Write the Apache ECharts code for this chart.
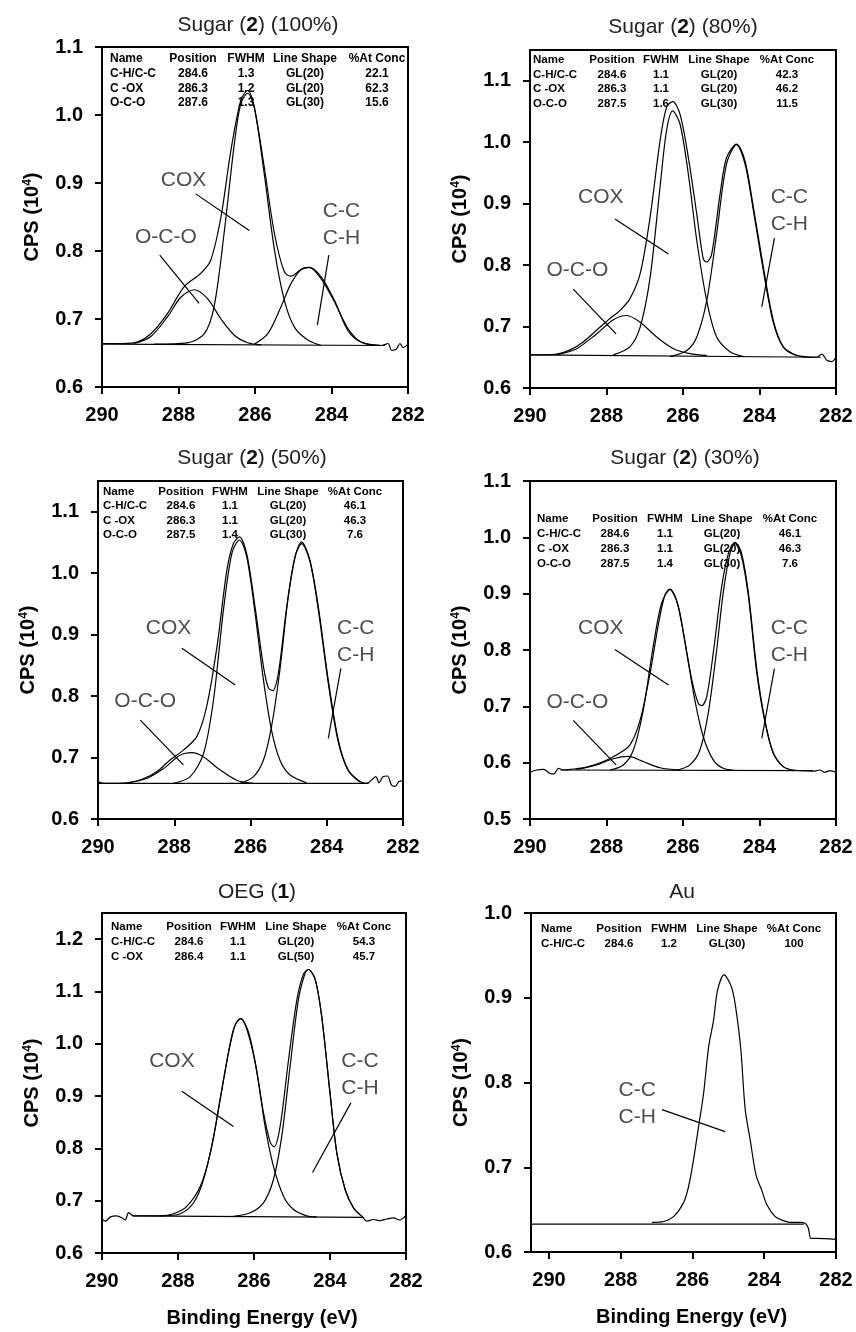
<!DOCTYPE html>
<html><head><meta charset="utf-8">
<script src="https://cdn.jsdelivr.net/npm/echarts@6/dist/echarts.min.js"></script>
<style>html,body{margin:0;padding:0;background:#fff}#c{width:856px;height:1332px}</style>
</head><body><div id="c"></div><script>
const FONT = '"Liberation Sans", Arial, Helvetica, sans-serif';
const xTicks = [290, 288, 286, 284, 282];
const tableHeader = ['Name', 'Position', 'FWHM', 'Line Shape', '%At Conc'];

// ---------- Panel 1 : Sugar (2) (100%) ----------
const p1Title = ['Sugar (', '2', ') (100%)'];
const p1YTicks = [0.6, 0.7, 0.8, 0.9, 1.0, 1.1];
const p1Envelope = [[290.0,0.664],[289.61,0.664],[289.17,0.665],[288.73,0.678],[288.29,0.708],[287.86,0.747],[287.42,0.767],[287.16,0.786],[286.89,0.85],[286.63,0.948],[286.37,1.022],[286.19,1.036],[286.02,1.012],[285.76,0.924],[285.49,0.825],[285.23,0.769],[285.06,0.763],[284.79,0.773],[284.58,0.776],[284.27,0.762],[283.92,0.727],[283.57,0.683],[283.22,0.666],[282.69,0.661],[282.52,0.664],[282.43,0.654],[282.3,0.656],[282.21,0.664],[282.13,0.658],[282.0,0.663]];
const p1Cox = [[288.64,0.663],[287.77,0.665],[287.33,0.678],[287.07,0.718],[286.81,0.825],[286.54,0.958],[286.37,1.017],[286.19,1.032],[286.02,1.012],[285.76,0.914],[285.49,0.801],[285.23,0.727],[284.97,0.688],[284.62,0.669],[284.27,0.661]];
const p1Oco = [[289.17,0.664],[288.73,0.674],[288.29,0.703],[287.94,0.732],[287.59,0.743],[287.24,0.73],[286.89,0.70],[286.54,0.676],[286.19,0.665],[285.84,0.662]];
const p1Cc = [[286.02,0.663],[285.67,0.678],[285.32,0.718],[285.06,0.752],[284.79,0.773],[284.58,0.776],[284.27,0.759],[283.92,0.725],[283.57,0.686],[283.22,0.666],[282.69,0.661]];
const p1Base = [[290.0,0.663],[282.6,0.661]];
const p1Labels = [['COX',287.87,0.904],['O-C-O',288.33,0.82],['C-C\nC-H',283.74,0.838]];
const p1Leaders = [[[287.55,0.884],[286.15,0.830]],[[288.49,0.794],[287.46,0.723]],[[284.07,0.794],[284.37,0.691]]];
const p1Table = [['C-H/C-C','284.6','1.3','GL(20)','22.1'],['C -OX','286.3','1.2','GL(20)','62.3'],['O-C-O','287.6','1.3','GL(30)','15.6']];

// ---------- Panel 2 : Sugar (2) (80%) ----------
const p2Title = ['Sugar (', '2', ') (80%)'];
const p2YTicks = [0.6, 0.7, 0.8, 0.9, 1.0, 1.1];
const p2Envelope = [[290.0,0.654],[289.65,0.654],[289.3,0.655],[288.95,0.662],[288.61,0.675],[288.26,0.694],[287.91,0.713],[287.65,0.726],[287.39,0.745],[287.12,0.786],[286.86,0.878],[286.6,1.002],[286.43,1.057],[286.27,1.066],[286.08,1.046],[285.86,0.975],[285.64,0.883],[285.47,0.81],[285.38,0.805],[285.25,0.818],[285.03,0.916],[284.86,0.975],[284.6,0.997],[284.38,0.97],[284.16,0.894],[283.9,0.797],[283.64,0.71],[283.38,0.667],[283.03,0.653],[282.51,0.65],[282.37,0.655],[282.24,0.645],[282.11,0.643],[282.0,0.65]];
const p2Cox = [[287.82,0.654],[287.39,0.667],[287.12,0.699],[286.86,0.78],[286.6,0.927],[286.43,1.019],[286.27,1.051],[286.08,1.03],[285.86,0.948],[285.64,0.84],[285.38,0.742],[285.12,0.683],[284.77,0.659],[284.42,0.651]];
const p2Oco = [[289.3,0.654],[288.78,0.664],[288.26,0.688],[287.82,0.711],[287.47,0.718],[287.12,0.707],[286.69,0.683],[286.25,0.664],[285.82,0.656],[285.38,0.653]];
const p2Cc = [[286.34,0.651],[285.9,0.661],[285.64,0.683],[285.38,0.742],[285.12,0.851],[284.86,0.965],[284.6,0.996],[284.38,0.965],[284.16,0.889],[283.9,0.791],[283.64,0.707],[283.38,0.667],[283.03,0.653]];
const p2Base = [[290.0,0.654],[282.4,0.650]];
const p2Labels = [['COX',288.15,0.91],['O-C-O',288.76,0.791],['C-C\nC-H',283.22,0.889]];
const p2Leaders = [[[287.78,0.875],[286.38,0.818]],[[288.87,0.761],[287.75,0.688]],[[283.61,0.844],[283.94,0.732]]];
const p2Table = [['C-H/C-C','284.6','1.1','GL(20)','42.3'],['C -OX','286.3','1.1','GL(20)','46.2'],['O-C-O','287.5','1.6','GL(30)','11.5']];

// ---------- Panel 3 : Sugar (2) (50%) ----------
const p3Title = ['Sugar (', '2', ') (50%)'];
const p3YTicks = [0.6, 0.7, 0.8, 0.9, 1.0, 1.1];
const p3Envelope = [[290.0,0.661],[289.85,0.658],[289.24,0.659],[288.8,0.666],[288.46,0.677],[288.11,0.696],[287.76,0.712],[287.41,0.734],[287.15,0.783],[286.88,0.88],[286.62,1.005],[286.45,1.048],[286.29,1.059],[286.1,1.032],[285.88,0.945],[285.66,0.848],[285.53,0.813],[285.42,0.809],[285.27,0.837],[285.05,0.945],[284.83,1.027],[284.66,1.051],[284.44,1.021],[284.22,0.945],[283.96,0.826],[283.7,0.729],[283.44,0.68],[283.13,0.661],[282.96,0.658],[282.78,0.666],[282.71,0.669],[282.63,0.659],[282.52,0.669],[282.41,0.67],[282.3,0.655],[282.2,0.653],[282.11,0.661],[282.0,0.662]];
const p3Cox = [[288.02,0.658],[287.58,0.669],[287.23,0.707],[286.97,0.794],[286.71,0.94],[286.49,1.032],[286.29,1.054],[286.1,1.027],[285.88,0.935],[285.66,0.826],[285.45,0.745],[285.23,0.696],[284.97,0.672],[284.53,0.659]];
const p3Oco = [[289.24,0.659],[288.72,0.666],[288.28,0.682],[287.84,0.704],[287.54,0.708],[287.23,0.701],[286.8,0.68],[286.36,0.663],[285.92,0.658]];
const p3Cc = [[286.27,0.658],[285.92,0.669],[285.66,0.696],[285.45,0.75],[285.23,0.842],[285.01,0.962],[284.83,1.027],[284.66,1.048],[284.44,1.019],[284.22,0.94],[283.96,0.821],[283.7,0.726],[283.44,0.679],[283.13,0.66]];
const p3Base = [[290.0,0.658],[282.9,0.658]];
const p3Labels = [['COX',288.15,0.91],['O-C-O',288.76,0.791],['C-C\nC-H',283.24,0.889]];
const p3Leaders = [[[287.8,0.878],[286.4,0.818]],[[288.89,0.761],[287.76,0.688]],[[283.63,0.845],[283.96,0.731]]];
const p3Table = [['C-H/C-C','284.6','1.1','GL(20)','46.1'],['C -OX','286.3','1.1','GL(20)','46.3'],['O-C-O','287.5','1.4','GL(30)','7.6']];

// ---------- Panel 4 : Sugar (2) (30%) ----------
const p4Title = ['Sugar (', '2', ') (30%)'];
const p4YTicks = [0.5, 0.6, 0.7, 0.8, 0.9, 1.0, 1.1];
const p4Envelope = [[290.0,0.583],[289.83,0.587],[289.65,0.588],[289.48,0.581],[289.37,0.58],[289.26,0.59],[289.13,0.587],[288.95,0.588],[288.52,0.592],[288.08,0.602],[287.73,0.614],[287.39,0.631],[287.12,0.676],[286.86,0.759],[286.64,0.847],[286.47,0.898],[286.34,0.908],[286.17,0.889],[285.99,0.83],[285.77,0.747],[285.6,0.705],[285.51,0.701],[285.38,0.717],[285.21,0.794],[284.99,0.912],[284.81,0.972],[284.64,0.991],[284.47,0.972],[284.29,0.901],[284.07,0.765],[283.86,0.676],[283.64,0.617],[283.38,0.593],[283.12,0.587],[282.59,0.585],[282.42,0.587],[282.29,0.583],[282.16,0.586],[282.0,0.583]];
const p4Cox = [[287.91,0.587],[287.56,0.596],[287.3,0.622],[287.04,0.693],[286.78,0.806],[286.56,0.883],[286.34,0.907],[286.12,0.877],[285.9,0.794],[285.69,0.711],[285.47,0.646],[285.21,0.605],[284.95,0.59],[284.6,0.586]];
const p4Oco = [[288.78,0.588],[288.26,0.596],[287.82,0.607],[287.43,0.611],[287.04,0.602],[286.6,0.591],[286.08,0.587]];
const p4Cc = [[286.17,0.586],[285.82,0.596],[285.56,0.622],[285.34,0.688],[285.12,0.8],[284.95,0.901],[284.77,0.972],[284.64,0.989],[284.47,0.966],[284.29,0.895],[284.07,0.759],[283.86,0.673],[283.64,0.617],[283.38,0.593],[283.12,0.586]];
const p4Base = [[289.2,0.587],[282.6,0.586]];
const p4Labels = [['COX',288.15,0.838],['O-C-O',288.76,0.708],['C-C\nC-H',283.22,0.815]];
const p4Leaders = [[[287.78,0.801],[286.38,0.738]],[[288.87,0.675],[287.75,0.596]],[[283.61,0.767],[283.94,0.643]]];
const p4Table = [['C-H/C-C','284.6','1.1','GL(20)','46.1'],['C -OX','286.3','1.1','GL(20)','46.3'],['O-C-O','287.5','1.4','GL(30)','7.6']];

// ---------- Panel 5 : OEG (1) ----------
const p5Title = ['OEG (', '1', ')'];
const p5YTicks = [0.6, 0.7, 0.8, 0.9, 1.0, 1.1, 1.2];
const p5Envelope = [[290.0,0.664],[289.91,0.661],[289.78,0.669],[289.61,0.671],[289.47,0.667],[289.39,0.663],[289.3,0.677],[289.17,0.671],[288.47,0.671],[288.12,0.675],[287.77,0.689],[287.41,0.728],[287.15,0.791],[286.89,0.894],[286.67,0.983],[286.49,1.037],[286.35,1.048],[286.19,1.028],[285.97,0.964],[285.75,0.868],[285.57,0.811],[285.47,0.803],[285.31,0.843],[285.09,0.97],[284.87,1.085],[284.7,1.133],[284.57,1.142],[284.39,1.123],[284.22,1.053],[284.0,0.906],[283.82,0.791],[283.6,0.721],[283.38,0.686],[283.16,0.67],[283.03,0.661],[282.86,0.664],[282.68,0.662],[282.51,0.665],[282.33,0.667],[282.16,0.663],[282.07,0.667],[282.0,0.673]];
const p5Cox = [[288.47,0.671],[287.94,0.675],[287.59,0.696],[287.33,0.74],[287.06,0.823],[286.8,0.932],[286.54,1.028],[286.35,1.048],[286.14,1.021],[285.92,0.945],[285.71,0.843],[285.49,0.766],[285.22,0.708],[284.96,0.683],[284.61,0.671],[284.35,0.669]];
const p5Cc = [[286.54,0.67],[286.1,0.677],[285.75,0.696],[285.49,0.74],[285.27,0.823],[285.05,0.957],[284.83,1.085],[284.65,1.136],[284.57,1.142],[284.39,1.123],[284.22,1.053],[284.0,0.906],[283.82,0.791],[283.6,0.721],[283.38,0.686],[283.16,0.67]];
const p5Base = [[289.2,0.671],[283.1,0.668]];
const p5Labels = [['COX',288.16,0.967],['C-C\nC-H',283.21,0.94]];
const p5Leaders = [[[287.9,0.909],[286.54,0.842]],[[283.45,0.887],[284.46,0.754]]];
const p5Table = [['C-H/C-C','284.6','1.1','GL(20)','54.3'],['C -OX','286.4','1.1','GL(50)','45.7']];

// ---------- Panel 6 : Au ----------
const p6Title = ['Au', '', ''];
const p6YTicks = [0.6, 0.7, 0.8, 0.9, 1.0];
const p6Envelope = [[287.13,0.635],[286.8,0.636],[286.52,0.642],[286.25,0.658],[286.11,0.677],[285.97,0.709],[285.83,0.748],[285.69,0.787],[285.55,0.842],[285.41,0.874],[285.3,0.909],[285.12,0.927],[284.9,0.911],[284.76,0.878],[284.65,0.838],[284.53,0.768],[284.39,0.732],[284.23,0.691],[284.07,0.673],[283.93,0.656],[283.7,0.642],[283.47,0.637],[283.28,0.635],[283.0,0.635],[282.86,0.634],[282.77,0.628],[282.7,0.616],[282.54,0.616],[282.0,0.615]];
const p6Base = [[290.5,0.633],[282.9,0.633]];
const p6Labels = [['C-C\nC-H',287.54,0.775]];
const p6Leaders = [[[286.85,0.768],[285.09,0.742]]];
const p6Table = [['C-H/C-C','284.6','1.2','GL(30)','100']];

// ---------- layout ----------
const panels = [
  {title:p1Title, yTicks:p1YTicks, yMin:0.6, yMax:1.1, xMax:290, curves:[p1Envelope,p1Cox,p1Oco,p1Cc], base:p1Base, labels:p1Labels, leaders:p1Leaders, table:p1Table,
   grid:{left:102,top:47,width:306,height:340}, tpos:[258,25], tbl:{name:8, cols:[91,144,203,275], row0:12, dy:14.6, fs:12}},
  {title:p2Title, yTicks:p2YTicks, yMin:0.6, yMax:1.15, xMax:290, curves:[p2Envelope,p2Cox,p2Oco,p2Cc], base:p2Base, labels:p2Labels, leaders:p2Leaders, table:p2Table,
   grid:{left:530,top:50,width:306,height:338}, tpos:[683,27], tbl:{name:3, cols:[82,131,189,257], row0:10, dy:14.6, fs:11.5}},
  {title:p3Title, yTicks:p3YTicks, yMin:0.6, yMax:1.15, xMax:290, curves:[p3Envelope,p3Cox,p3Oco,p3Cc], base:p3Base, labels:p3Labels, leaders:p3Leaders, table:p3Table,
   grid:{left:98,top:481,width:305,height:338}, tpos:[252,458], tbl:{name:5, cols:[83,132,190,257], row0:10.7, dy:14.5, fs:11.5}},
  {title:p4Title, yTicks:p4YTicks, yMin:0.5, yMax:1.1, xMax:290, curves:[p4Envelope,p4Cox,p4Oco,p4Cc], base:p4Base, labels:p4Labels, leaders:p4Leaders, table:p4Table,
   grid:{left:530,top:481,width:306,height:338}, tpos:[685,458], tbl:{name:7, cols:[85,135,192,260], row0:38.3, dy:14.7, fs:11.5}},
  {title:p5Title, yTicks:p5YTicks, yMin:0.6, yMax:1.25, xMax:290, curves:[p5Envelope,p5Cox,p5Cc], base:p5Base, labels:p5Labels, leaders:p5Leaders, table:p5Table,
   grid:{left:102,top:913,width:304,height:340}, tpos:[257,892], tbl:{name:9, cols:[87,136,194,262], row0:14, dy:14.8, fs:11.5}},
  {title:p6Title, yTicks:p6YTicks, yMin:0.6, yMax:1.0, xMax:290.5, curves:[p6Envelope], base:p6Base, labels:p6Labels, leaders:p6Leaders, table:p6Table,
   grid:{left:531,top:913,width:305,height:339}, tpos:[682,892], tbl:{name:10, cols:[88,138,196,263], row0:16, dy:14.7, fs:11.5}}
];

const grids = [], xAxes = [], yAxes = [], series = [], graphics = [];
panels.forEach((p, i) => {
  grids.push(Object.assign({show:true, borderColor:'#000', borderWidth:2, containLabel:false}, p.grid));
  xAxes.push({
    type:'value', gridIndex:i, inverse:true, min:282, max:p.xMax,
    axisLine:{show:true, onZero:false, lineStyle:{color:'#000', width:2}},
    axisTick:{show:true, inside:false, length:7, lineStyle:{color:'#000', width:2}, customValues:xTicks},
    axisLabel:{customValues:xTicks, fontSize:20, fontWeight:'bold', color:'#000', fontFamily:FONT, margin:18,
               formatter:v => String(Math.round(v))},
    splitLine:{show:false},
    name: i >= 4 ? 'Binding Energy (eV)' : '', nameLocation:'middle', nameGap:55,
    nameTextStyle:{fontSize:20, fontWeight:'bold', color:'#000', fontFamily:FONT, padding:[0,0,0,16]}
  });
  yAxes.push({
    type:'value', gridIndex:i, min:p.yMin, max:p.yMax,
    axisLine:{show:true, onZero:false, lineStyle:{color:'#000', width:2}},
    axisTick:{show:true, inside:false, length:7, lineStyle:{color:'#000', width:2}, customValues:p.yTicks},
    axisLabel:{customValues:p.yTicks, fontSize:20, fontWeight:'bold', color:'#000', fontFamily:FONT, margin:19,
               formatter:v => v.toFixed(1)},
    splitLine:{show:false},
    name:'CPS (10{s|4})', nameLocation:'middle', nameGap:60, nameRotate:90,
    nameTextStyle:{fontSize:20, fontWeight:'bold', color:'#000', fontFamily:FONT,
      rich:{s:{fontSize:12, fontWeight:'bold', color:'#000', fontFamily:FONT, verticalAlign:'top', padding:[0,0,6,0]}}}
  });
  const lineBase = {type:'line', xAxisIndex:i, yAxisIndex:i, symbol:'none', silent:true, animation:false};
  p.curves.forEach(c => series.push(Object.assign({}, lineBase, {data:c, smooth:0.3, lineStyle:{color:'#000', width:1.2}})));
  series.push(Object.assign({}, lineBase, {data:p.base, lineStyle:{color:'#000', width:1.2}}));
  p.leaders.forEach(l => series.push(Object.assign({}, lineBase, {data:l, lineStyle:{color:'#000', width:1.2}})));
  series.push({
    type:'scatter', xAxisIndex:i, yAxisIndex:i, silent:true, animation:false, symbolSize:1,
    itemStyle:{color:'rgba(0,0,0,0)'},
    data:p.labels.map(l => ({name:l[0], value:[l[1], l[2]]})),
    label:{show:true, position:'inside', formatter:'{b}', fontSize:21, color:'#222', fontFamily:FONT, lineHeight:27}
  });
  // title
  const t = p.title;
  let txt = '{n|' + t[0] + '}';
  if (t[1]) txt += '{b|' + t[1] + '}';
  if (t[2]) txt += '{n|' + t[2] + '}';
  graphics.push({type:'text', x:p.tpos[0], y:p.tpos[1], silent:true,
    style:{text:txt, fontSize:21, fontFamily:FONT, fill:'#222', align:'center', verticalAlign:'middle',
      rich:{n:{fontSize:21, fontFamily:FONT, fill:'#222'}, b:{fontSize:21, fontWeight:'bold', fontFamily:FONT, fill:'#111'}}}});
  // table
  const rows = [tableHeader].concat(p.table);
  rows.forEach((row, r) => {
    row.forEach((cell, c) => {
      graphics.push({type:'text', silent:true,
        x: p.grid.left + (c === 0 ? p.tbl.name : p.tbl.cols[c-1]),
        y: p.grid.top + p.tbl.row0 + r * p.tbl.dy,
        style:{text:cell, font:'bold ' + p.tbl.fs + 'px ' + FONT, fill:'#000',
               align: c === 0 ? 'left' : 'center', verticalAlign:'middle'}});
    });
  });
});

const chart = echarts.init(document.getElementById('c'), null, {renderer:'canvas'});
chart.setOption({animation:false, backgroundColor:'#fff', grid:grids, xAxis:xAxes, yAxis:yAxes, series:series, graphic:{elements:graphics}});
</script></body></html>
